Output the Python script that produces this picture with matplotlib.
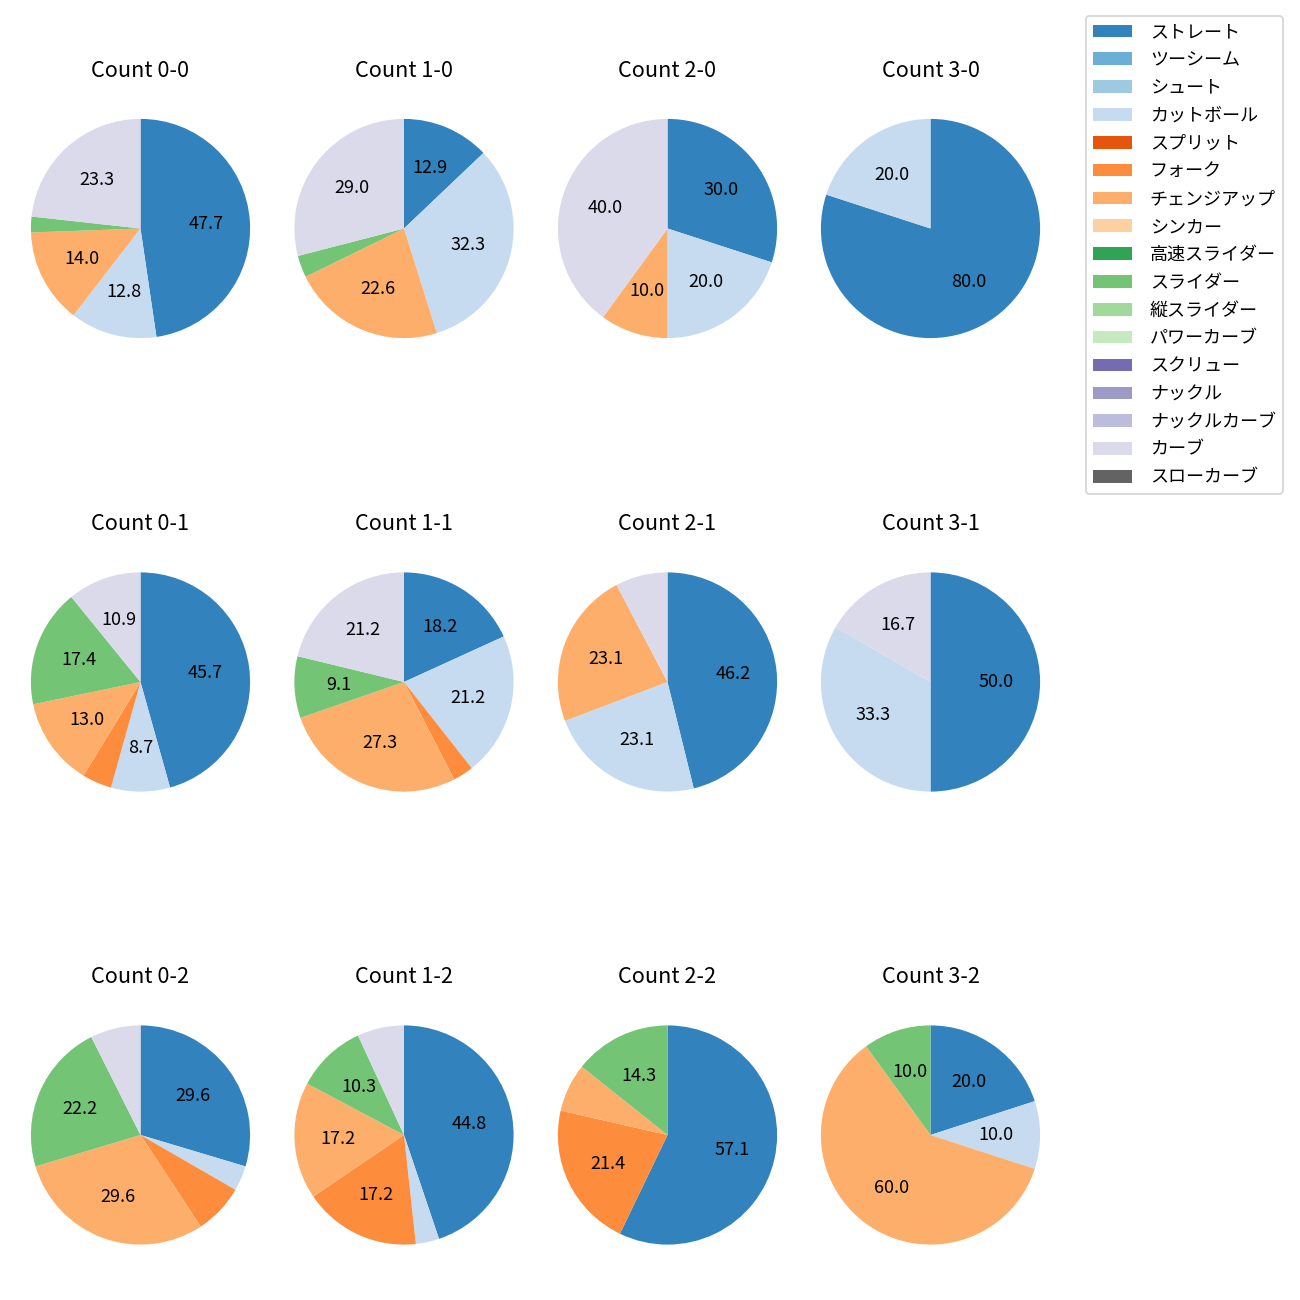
import numpy as np
import matplotlib
matplotlib.use("Agg")
import matplotlib.pyplot as plt
from matplotlib.patches import Patch

plt.rcParams['font.family'] = ['Noto Sans CJK JP', 'DejaVu Sans']

pitch_types = ['ストレート', 'ツーシーム', 'シュート', 'カットボール', 'スプリット',
               'フォーク', 'チェンジアップ', 'シンカー', '高速スライダー', 'スライダー',
               '縦スライダー', 'パワーカーブ', 'スクリュー', 'ナックル', 'ナックルカーブ',
               'カーブ', 'スローカーブ']

# pitch counts per ball-strike count, same order as pitch_types
count_0_0 = [41, 0, 0, 11, 0, 0, 12, 0, 0, 2, 0, 0, 0, 0, 0, 20, 0]
count_1_0 = [4, 0, 0, 10, 0, 0, 7, 0, 0, 1, 0, 0, 0, 0, 0, 9, 0]
count_2_0 = [3, 0, 0, 2, 0, 0, 1, 0, 0, 0, 0, 0, 0, 0, 0, 4, 0]
count_3_0 = [4, 0, 0, 1, 0, 0, 0, 0, 0, 0, 0, 0, 0, 0, 0, 0, 0]
count_0_1 = [21, 0, 0, 4, 0, 2, 6, 0, 0, 8, 0, 0, 0, 0, 0, 5, 0]
count_1_1 = [6, 0, 0, 7, 0, 1, 9, 0, 0, 3, 0, 0, 0, 0, 0, 7, 0]
count_2_1 = [6, 0, 0, 3, 0, 0, 3, 0, 0, 0, 0, 0, 0, 0, 0, 1, 0]
count_3_1 = [3, 0, 0, 2, 0, 0, 0, 0, 0, 0, 0, 0, 0, 0, 0, 1, 0]
count_0_2 = [8, 0, 0, 1, 0, 2, 8, 0, 0, 6, 0, 0, 0, 0, 0, 2, 0]
count_1_2 = [13, 0, 0, 1, 0, 5, 5, 0, 0, 3, 0, 0, 0, 0, 0, 2, 0]
count_2_2 = [8, 0, 0, 0, 0, 3, 1, 0, 0, 2, 0, 0, 0, 0, 0, 0, 0]
count_3_2 = [2, 0, 0, 1, 0, 0, 6, 0, 0, 1, 0, 0, 0, 0, 0, 0, 0]

grid = [[count_0_0, count_1_0, count_2_0, count_3_0],
        [count_0_1, count_1_1, count_2_1, count_3_1],
        [count_0_2, count_1_2, count_2_2, count_3_2]]

colors = plt.get_cmap('tab20c').colors[:len(pitch_types)]

fig = plt.figure(figsize=(10, 10), dpi=130)

W = H = 1300.0
side = 274 / W
xc = [140.5, 404, 667.5, 930.5]
yc = [228.5, 682, 1135]

for r in range(3):
    for c in range(4):
        ax = fig.add_axes([xc[c] / W - side / 2, 1 - yc[r] / H - side / 2, side, side])
        vals = np.array(grid[r][c], dtype=float)
        ax.pie(vals, colors=colors, startangle=90, counterclock=False,
               autopct=lambda p: f'{p:.1f}' if p >= 8 else '')
        ax.set_title(f'Count {c}-{r}', pad=8.2)

handles = [Patch(facecolor=colors[i], label=pitch_types[i]) for i in range(len(pitch_types))]
fig.legend(handles=handles, loc='upper right', labelspacing=0.545,
           handlelength=2.15, handletextpad=1.0,
           bbox_to_anchor=(1283 / W, 1 - 16 / H), borderaxespad=0)

fig.savefig('out.png', dpi=130)
